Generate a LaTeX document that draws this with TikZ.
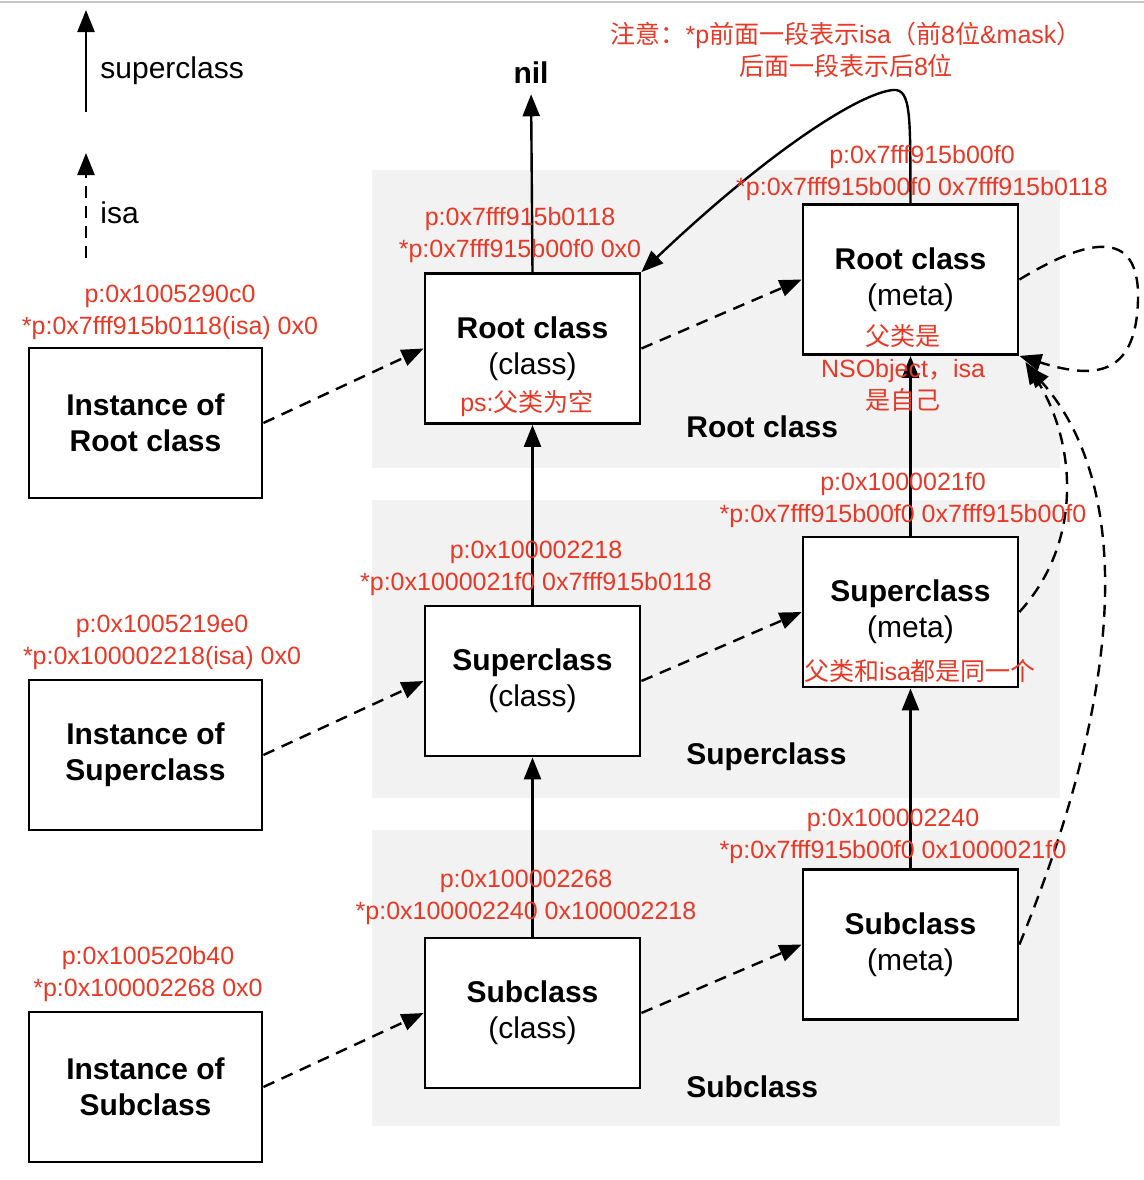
\documentclass[tikz,border=0pt]{standalone}
\usepackage{fontspec}
\setmainfont{Liberation Sans}
\newfontfamily\cjk{Noto Sans CJK SC}
\usetikzlibrary{arrows.meta}
\definecolor{notered}{RGB}{232,56,38}
\definecolor{bandgray}{RGB}{242,242,242}
\newcommand\zh[1]{{\cjk #1}}

\begin{document}
\begin{tikzpicture}[x=0.5pt,y=-0.5pt,
  clsbox/.style={draw,line width=1.4pt,fill=white,minimum width=107.5pt,
    minimum height=75pt,align=center,inner sep=0pt,
    font=\fontsize{15}{18}\selectfont},
  instbox/.style={clsbox,minimum width=116.5pt},
  note/.style={text=notered,align=center,inner sep=0pt,
    font=\fontsize{12.5}{16}\selectfont},
  title/.style={inner sep=0pt,font=\bfseries\fontsize{15}{18}\selectfont},
  legend/.style={inner sep=0pt,anchor=west,font=\fontsize{15}{18}\selectfont},
  superarrow/.style={line width=1.2pt,-{Triangle[length=11pt,width=8.5pt]}},
  isaarrow/.style={superarrow,dash pattern=on 6pt off 4pt}]
 \useasboundingbox (0,0) rectangle (1144,1180);
 \draw[black!22,line width=1pt] (0,2) -- (1144,2);
 % bands
 \fill[bandgray] (372,170) rectangle (1060,468);
 \fill[bandgray] (372,500) rectangle (1060,798);
 \fill[bandgray] (372,830) rectangle (1060,1126);
 \node[title,anchor=west](tr) at (686,427) {Root class};
 \node[title,anchor=west](ts) at (686,757) {Superclass};
 \node[title,anchor=west](tb) at (686,1087) {Subclass};
 % legend
 \coordinate (lsa) at (86,112);
 \coordinate (lsb) at (86,10);
 \coordinate (lia) at (86,258);
 \coordinate (lib) at (86,153);
 \draw[superarrow] (lsa) -- (lsb);
 \draw[isaarrow] (lia) -- (lib);
 \node[legend](ls) at (100,71) {superclass};
 \node[legend](li) at (100,213) {isa};
 % boxes
 \node[instbox](ir) at (145.5,423) {\textbf{Instance of}\\\textbf{Root class}};
 \node[instbox](is) at (145.5,755) {\textbf{Instance of}\\\textbf{Superclass}};
 \node[instbox](ib) at (145.5,1087) {\textbf{Instance of}\\\textbf{Subclass}};
 \node[clsbox](cr) at (532.5,348.5) {\textbf{Root class}\\(class)};
 \node[clsbox](cs) at (532.5,681) {\textbf{Superclass}\\(class)};
 \node[clsbox](cb) at (532.5,1013) {\textbf{Subclass}\\(class)};
 \node[clsbox](mr) at (910.5,279.5) {\textbf{Root class}\\(meta)};
 \node[clsbox](ms) at (910.5,612) {\textbf{Superclass}\\(meta)};
 \node[clsbox](mb) at (910.5,944.5) {\textbf{Subclass}\\(meta)};
 \node[title](nil) at (531,73) {nil};
 \coordinate (peak) at (893,90);
 % superclass
 \draw[superarrow,shorten >=5pt] (cr.north) -- (nil.south);
 \draw[superarrow] (cs.north) -- (cr.south);
 \draw[superarrow] (cb.north) -- (cs.south);
 \draw[superarrow] (ms.north) -- (mr.south);
 \draw[superarrow] (mb.north) -- (ms.south);
 \draw[superarrow] (mr.north) .. controls (910,120) and (912,88) .. (peak)
   .. controls (860,93) and (770,150) .. (cr.north east);
 % isa
 \draw[isaarrow] (ir.east) -- (cr.west);
 \draw[isaarrow] (is.east) -- (cs.west);
 \draw[isaarrow] (ib.east) -- (cb.west);
 \draw[isaarrow] (cr.east) -- (mr.west);
 \draw[isaarrow] (cs.east) -- (ms.west);
 \draw[isaarrow] (cb.east) -- (mb.west);
 \draw[isaarrow] (mr.east) .. controls (1085,240) and (1140,225) .. (1138,300)
   .. controls (1136,380) and (1090,378) .. (mr.south east);
 \draw[isaarrow] (ms.east) .. controls (1085,540) and (1075,440) .. ([xshift=3pt,yshift=-3pt]mr.south east);
 \draw[isaarrow] (mb.east) .. controls (1140,650) and (1120,470) .. ([xshift=4pt,yshift=-5pt]mr.south east);
 % notes
 \node[note](ntop) at (846,50) {\zh{注意：}*p\zh{前面一段表示}isa\zh{（前}8\zh{位}\&mask\zh{）}\\\zh{后面一段表示后}8\zh{位}};
 \node[note](nmr) at (922,173) {p:0x7fff915b00f0\\*p:0x7fff915b00f0 0x7fff915b0118};
 \node[note](ncr) at (520,235) {p:0x7fff915b0118\\*p:0x7fff915b00f0 0x0};
 \node[note](nir) at (170,312) {p:0x1005290c0\\*p:0x7fff915b0118(isa) 0x0};
 \node[note](nms) at (903,500) {p:0x1000021f0\\*p:0x7fff915b00f0 0x7fff915b00f0};
 \node[note](ncs) at (536,568) {p:0x100002218\\*p:0x1000021f0 0x7fff915b0118};
 \node[note](nis) at (162,642) {p:0x1005219e0\\*p:0x100002218(isa) 0x0};
 \node[note](nmb) at (893,836) {p:0x100002240\\*p:0x7fff915b00f0 0x1000021f0};
 \node[note](ncb) at (526,897) {p:0x100002268\\*p:0x100002240 0x100002218};
 \node[note](nib) at (148,974) {p:0x100520b40\\*p:0x100002268 0x0};
 \node[note](ncr2) at (527,404) {ps:\zh{父类为空}};
 \node[note](nmr2) at (903,368) {\zh{父类是}\\NSObject\zh{，}isa\\\zh{是自己}};
 \node[note](nms2) at (920,671) {\zh{父类和}isa\zh{都是同一个}};
\end{tikzpicture}
\end{document}
